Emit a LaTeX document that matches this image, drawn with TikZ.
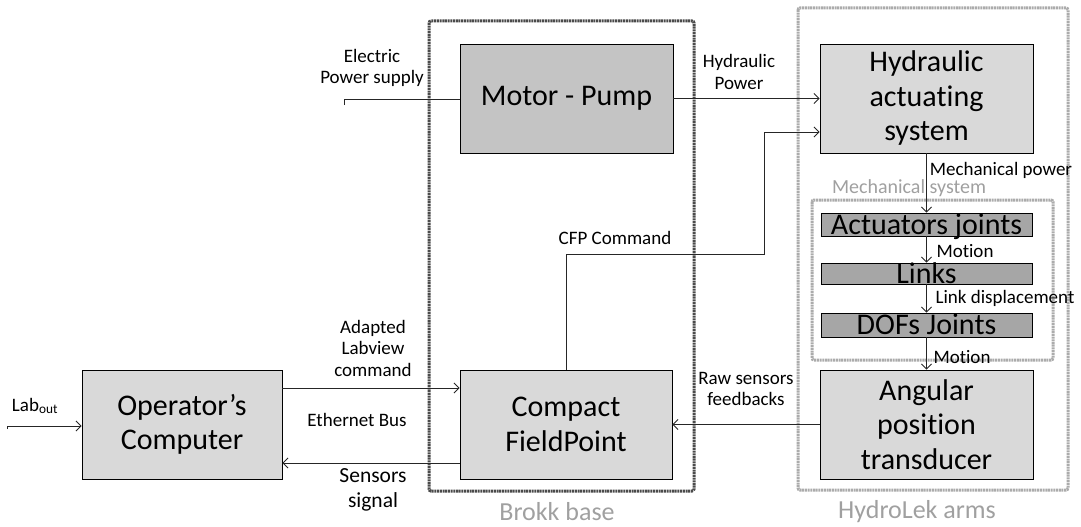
\documentclass[tikz,border=0pt]{standalone}
\usepackage{fontspec}
\setmainfont{Carlito}[Ligatures=NoCommon]
\usetikzlibrary{arrows.meta,calc}
\definecolor{boxlight}{HTML}{D9D9D9}
\definecolor{boxmid}{HTML}{C4C4C4}
\definecolor{boxdark}{HTML}{A6A6A6}
\definecolor{grouptxt}{HTML}{A0A0A0}
\definecolor{groupdark}{HTML}{4A4A4A}
\definecolor{grouplight}{HTML}{ABABAB}
\begin{document}
\begin{tikzpicture}[x=1pt,y=-1pt,
  blk/.style={draw=black,line width=0.9pt,inner sep=0pt,align=center,
    font=\fontsize{30}{34.5}\selectfont},
  lightblk/.style={blk,fill=boxlight},
  midblk/.style={blk,fill=boxmid},
  darkblk/.style={draw=black,line width=0.9pt,fill=boxdark,inner sep=0pt},
  bigtxt/.style={inner sep=0pt,font=\fontsize{30}{34}\selectfont,text height=19pt,text depth=0pt},
  lbl/.style={inner sep=0pt,align=center,font=\fontsize{19}{21.5}\selectfont},
  lbllarge/.style={inner sep=0pt,align=center,font=\fontsize{21.5}{25}\selectfont},
  grplbl/.style={inner sep=0pt,text=grouptxt,font=\fontsize{26}{30}\selectfont},
  grpdark/.style={draw=groupdark,line width=3pt,dash pattern=on 2pt off 0.7pt,rounded corners=2pt},
  grplight/.style={draw=grouplight,line width=3pt,dash pattern=on 2pt off 0.7pt,rounded corners=2pt},
  conn/.style={draw=black!85,line width=0.9pt},
  arr/.style={conn,-{Straight Barb[length=5pt,width=10pt]}}
]
\useasboundingbox (0,0) rectangle (1081,527);

% group frames
\draw[grpdark] (429,21) rectangle (694,491);
\draw[grplight] (798,8) rectangle (1068,490);
\draw[grplight] (812,200) rectangle (1053,360);
\node[grplbl] (brokklbl) at (557,512) {Brokk base};
\node[grplbl] (hydrolbl) at (917,512) {HydroLek arms};
\node[grplbl,font=\fontsize{20}{24}\selectfont] (mechlbl) at (909,188) {Mechanical system};

% blocks
\node[lightblk,minimum width=200pt,minimum height=109pt] (op) at (182,424.5) {Operator’s\\Computer};
\node[lightblk,minimum width=212pt,minimum height=109pt] (cfp) at (566,424.5) {Compact\\FieldPoint};
\node[midblk,minimum width=213pt,minimum height=109pt] (mp) at (566.5,98.5) {Motor - Pump};
\node[lightblk,minimum width=213pt,minimum height=109pt] (has) at (926.5,98.5) {Hydraulic\\actuating\\system};
\node[lightblk,minimum width=213pt,minimum height=109pt] (apt) at (926.5,424.5) {Angular\\position\\transducer};
\node[darkblk,minimum width=211pt,minimum height=23pt] (act) at (926.5,224.5) {};
\node[bigtxt] (acttxt) at (act) {Actuators joints};
\node[darkblk,minimum width=211pt,minimum height=21pt] (links) at (926.5,273.5) {};
\node[bigtxt] (linkstxt) at (links) {Links};
\node[darkblk,minimum width=211pt,minimum height=24pt] (dofs) at (926.5,325) {};
\node[bigtxt] (dofstxt) at (dofs) {DOFs Joints};

% free ends
\coordinate (labin) at (7,429);
\coordinate (labcorner) at (7,426);
\coordinate (elin) at (344,105);
\coordinate (elcorner) at (344,99);
\coordinate (cfpa) at (566,254);
\coordinate (cfpb) at (764,254);
\coordinate (cfpc) at (764,132);

% connectors
\draw[arr] (labin) -- (labcorner) -- (op.west |- labcorner);
\draw[conn] (elin) -- (elcorner) -- (mp.west |- elcorner);
\draw[arr] (mp.east) -- (has.west);
\draw[arr] ([yshift=36.5pt]op.east) -- ([yshift=36.5pt]cfp.west);
\draw[arr] ([yshift=-38.5pt]cfp.west) -- ([yshift=-38.5pt]op.east);
\draw[arr] (apt.west) -- (cfp.east);
\draw[arr] (cfp.north) -- (cfpa) -- (cfpb) -- (cfpc) -- (has.west |- cfpc);
\draw[arr] (has.south) -- (act.north);
\draw[arr] (act.south) -- (links.north);
\draw[arr] (links.south) -- (dofs.north);
\draw[arr] (dofs.south) -- (apt.north);

% labels
\node[lbl] (lablbl) at (35,406) {Lab\textsubscript{out}};
\node[lbl] (ellbl) at (372,68) {Electric\\Power supply};
\node[lbl] (hplbl) at (739,72) {Hydraulic\\Power};
\node[lbl] (adlbl) at (373,348) {Adapted\\Labview\\command};
\node[lbl] (ethlbl) at (357,420) {Ethernet Bus};
\node[lbllarge] (senslbl) at (373,490) {Sensors\\signal};
\node[lbl] (rawlbl) at (746,389) {Raw sensors\\feedbacks};
\node[lbl] (cfplbl) at (615,238) {CFP Command};
\node[lbl] (mplbl) at (1001,170) {Mechanical power};
\node[lbl] (mot1lbl) at (965,251) {Motion};
\node[lbl] (ldlbl) at (1005,298) {Link displacement};
\node[lbl] (mot2lbl) at (962,357) {Motion};
\end{tikzpicture}
\end{document}
